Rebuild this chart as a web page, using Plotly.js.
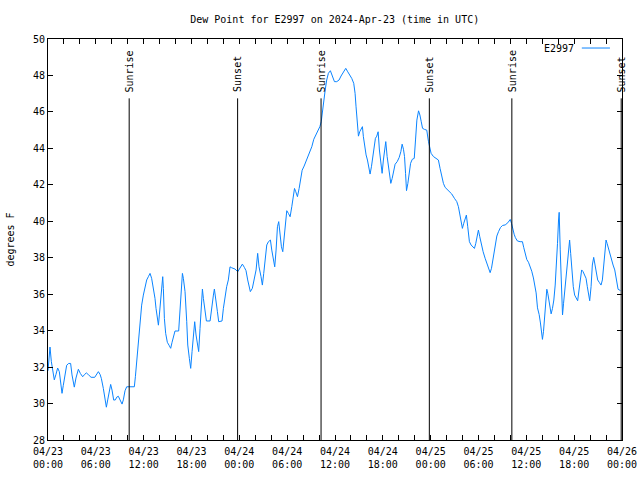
<!DOCTYPE html>
<html>
<head>
<meta charset="utf-8">
<script src="https://cdn.plot.ly/plotly-3.0.1.min.js"></script>
<style>html,body{margin:0;padding:0;background:#fff;}#chart{width:640px;height:480px;}</style>
</head>
<body>
<div id="chart"></div>
<script>
// Hours since 2024-04-23 00:00 UTC
const hours = [
0.0,0.25,0.42,0.59,0.79,1.00,1.21,1.42,1.63,1.76,1.92,2.09,2.34,2.59,2.84,3.01,3.3,3.51,3.81,4.06,4.35,4.6,4.81,5.1,5.4,5.86,6.11,6.32,6.53,6.69,6.94,7.11,7.32,7.49,7.7,7.86,8.03,8.24,8.45,8.62,8.82,9.03,9.29,9.45,9.66,9.87,10.83,10.96,11.12,11.29,11.42,
11.54,11.75,11.96,12.17,12.38,12.59,12.8,13.0,13.21,13.42,13.55,13.72,13.85,13.97,14.14,14.26,14.39,14.47,14.6,14.76,14.97,15.22,15.39,15.56,15.73,15.93,16.39,16.56,16.73,16.86,16.98,17.19,17.4,17.53,17.73,17.9,18.07,18.23,18.4,18.57,18.74,18.9,19.07,19.24,19.37,19.49,19.7,19.87,20.33,20.54,20.75,20.87,21.04,21.25,21.41,21.83,22.0,22.2,22.41,22.62,22.83,23.04,23.46,23.8,
24.09,24.38,24.63,24.84,25.05,25.22,25.38,25.63,25.88,26.1,26.3,26.47,26.72,26.89,27.06,27.23,27.44,27.65,27.9,28.07,28.27,28.44,28.61,28.78,28.94,29.11,29.28,29.45,29.62,29.79,29.95,30.16,30.37,30.58,30.75,30.92,31.08,31.29,31.5,31.71,31.88,32.13,32.34,32.59,32.84,33.09,33.34,33.6,33.85,34.1,34.27,34.43,34.6,34.77,34.96,35.17,35.42,35.67,35.93,36.22,36.51,36.76,37.06,37.35,37.6,37.89,38.1,38.35,38.52,38.64,38.81,38.94,39.1,39.27,39.44,39.56,39.73,39.9,40.07,40.23,40.4,40.57,40.74,40.9,41.07,41.24,41.41,41.57,41.74,41.91,42.07,42.24,42.37,42.54,42.7,42.87,43.0,43.17,43.33,43.54,43.8,44.05,44.26,44.42,44.59,44.72,44.85,44.97,45.14,45.31,45.48,45.69,45.94,46.1,46.27,46.48,46.65,46.82,46.98,47.23,47.51,47.72,47.89,
48.05,48.35,48.64,48.97,49.18,49.39,49.6,49.81,50.06,50.31,50.64,50.98,51.27,51.48,51.65,51.77,51.98,52.15,52.32,52.48,52.65,52.86,53.07,53.28,53.49,53.66,53.82,53.99,54.16,54.33,54.58,54.83,55.04,55.25,55.46,55.63,55.8,55.96,56.13,56.3,56.51,56.76,57.01,57.35,57.68,57.98,58.14,58.3,58.47,58.63,58.88,59.22,59.51,59.68,59.85,
60.06,60.27,60.48,60.68,60.89,61.06,61.23,61.4,61.61,61.77,61.94,62.02,62.15,62.27,62.4,62.57,62.69,62.82,62.99,63.11,63.28,63.45,63.62,63.78,63.91,64.04,64.12,64.25,64.38,64.54,64.67,64.84,65.01,65.18,65.3,65.43,65.56,65.73,65.89,66.06,66.23,66.44,66.61,66.77,66.94,67.11,67.28,67.49,67.65,67.82,67.95,68.12,68.28,68.45,68.62,68.79,68.95,69.16,69.37,69.54,69.71,69.87,70.0,70.13,70.3,70.46,70.67,70.88,71.09,71.26,71.38,71.51,71.8
];
const dewpoint = [
31.8,33.1,32.3,31.84,31.3,31.6,31.95,31.75,31.1,30.56,31.0,31.47,32.1,32.2,32.2,31.57,30.9,31.4,31.88,31.65,31.47,31.6,31.68,31.57,31.44,31.44,31.65,31.75,31.6,31.38,30.83,30.29,29.8,30.2,30.74,31.05,30.74,30.19,30.2,30.35,30.4,30.2,29.97,30.2,30.7,30.92,30.92,31.47,32.3,33.3,34.0,
34.76,35.4,35.95,36.41,36.78,36.96,37.14,36.87,36.41,35.77,35.22,34.58,34.3,34.86,35.77,36.5,36.96,36.32,34.67,33.85,33.36,33.17,33.03,33.36,33.67,33.98,33.98,35.22,36.32,37.14,36.87,36.14,34.49,33.21,32.48,31.93,32.85,33.58,34.49,33.76,33.12,32.85,34.12,35.22,36.28,35.77,35.22,34.53,34.53,35.4,35.95,36.28,35.59,35.04,34.49,34.53,35.22,35.95,36.41,36.78,37.5,37.45,37.38,37.23,
37.47,37.65,37.47,37.29,36.78,36.41,36.14,36.32,36.78,37.33,38.24,37.5,36.96,36.5,37.14,37.87,38.7,38.88,38.97,38.42,37.87,37.5,38.42,39.7,39.98,39.15,38.6,38.33,39.15,40.07,40.58,40.43,40.25,40.8,41.35,41.8,41.62,41.35,41.8,42.35,42.8,43.03,43.27,43.5,43.73,44.09,44.5,44.73,44.91,45.19,45.46,46.1,46.83,47.2,47.75,48.12,48.26,47.97,47.66,47.66,47.75,47.97,48.2,48.39,48.2,48.02,47.84,47.57,47.02,46.28,45.55,44.67,44.91,45.04,45.19,44.64,44.09,43.64,43.36,42.9,42.59,42.99,43.55,44.18,44.55,44.67,44.91,43.91,43.36,42.63,43.36,44.09,44.37,43.55,42.99,42.53,42.08,42.35,42.8,43.13,43.27,43.5,43.82,44.23,43.95,43.55,42.63,41.68,42.08,42.72,43.18,43.4,43.45,44.46,45.55,46.06,45.83,45.46,45.1,45.04,45.0,44.39,44.03,
43.73,43.55,43.45,43.36,42.9,42.45,42.08,41.86,41.75,41.62,41.5,41.26,41.08,40.8,40.43,39.98,39.61,39.89,40.16,40.34,39.7,38.88,38.7,38.6,38.51,38.79,39.24,39.52,39.15,38.79,38.33,37.97,37.7,37.42,37.18,37.42,37.87,38.33,38.79,39.19,39.43,39.66,39.77,39.8,39.92,40.1,39.89,39.52,39.29,39.1,38.92,38.88,38.88,38.55,38.19,
37.9,37.75,37.53,37.26,36.89,36.53,36.07,35.25,34.88,34.42,33.85,33.52,33.94,34.58,35.31,36.27,36.05,35.68,35.13,34.92,35.22,35.68,36.5,37.6,38.79,40.07,40.49,38.43,36.96,34.86,35.5,36.32,37.05,38.06,38.7,38.97,38.24,37.05,36.41,35.95,35.77,35.64,36.23,36.87,37.33,37.24,37.11,36.87,36.41,35.95,35.64,36.41,37.6,38.02,37.6,37.15,36.78,36.64,36.5,36.78,37.51,38.33,38.97,38.79,38.51,38.15,37.87,37.6,37.33,36.87,36.5,36.27,36.2
];
const eventNames = ["Sunrise","Sunset","Sunrise","Sunset","Sunrise","Sunset"];
const eventTimes = ["2024-04-23 10:11","2024-04-23 23:47","2024-04-24 10:15","2024-04-24 23:50","2024-04-25 10:11","2024-04-25 23:54"];
const xTickVals = ["2024-04-23 00:00","2024-04-23 06:00","2024-04-23 12:00","2024-04-23 18:00","2024-04-24 00:00","2024-04-24 06:00","2024-04-24 12:00","2024-04-24 18:00","2024-04-25 00:00","2024-04-25 06:00","2024-04-25 12:00","2024-04-25 18:00","2024-04-26 00:00"];
const xTickText = ["04/23<br>00:00","04/23<br>06:00","04/23<br>12:00","04/23<br>18:00","04/24<br>00:00","04/24<br>06:00","04/24<br>12:00","04/24<br>18:00","04/25<br>00:00","04/25<br>06:00","04/25<br>12:00","04/25<br>18:00","04/26<br>00:00"];
const seriesName = "E2997";
const lineColor = "#0a84ff";

function toStamp(h){
  const d = new Date(Date.UTC(2024,3,23,0,0,0) + Math.round(h*3600000));
  const p = n => String(n).padStart(2,'0');
  return d.getUTCFullYear()+'-'+p(d.getUTCMonth()+1)+'-'+p(d.getUTCDate())+' '+p(d.getUTCHours())+':'+p(d.getUTCMinutes())+':'+p(d.getUTCSeconds());
}
const xs = hours.map(toStamp);

const font = {family: "DejaVu Sans Mono, monospace", size: 10, color: "#000"};
const shapes = eventTimes.map(t => ({type:'line', xref:'x', yref:'paper', x0:t, x1:t, y0:0, y1:0.852, line:{color:'#000', width:1}}));
shapes.push({type:'line', xref:'paper', yref:'paper', x0:0.930, x1:0.979, y0:0.9775, y1:0.9775, line:{color:lineColor, width:1}});
const annotations = eventTimes.map((t,i) => ({x:t, xref:'x', y:0.862, yref:'paper', text:eventNames[i], showarrow:false, textangle:-90, xanchor:'center', yanchor:'bottom', font:font}));
annotations.push({x:0.919, xref:'paper', y:0.9775, yref:'paper', text:seriesName, showarrow:false, xanchor:'right', yanchor:'middle', font:font});

const data = [{x: xs, y: dewpoint, type:'scatter', mode:'lines', name: seriesName, line:{color:lineColor, width:1}, showlegend:false, cliponaxis:true}];
const layout = {
  width:640, height:480,
  margin:{l:48, r:18, t:39, b:40},
  paper_bgcolor:'#fff', plot_bgcolor:'#fff',
  font: font,
  title:{text:"Dew Point for E2997 on 2024-Apr-23 (time in UTC)", font:{family:font.family, size:10, color:'#000'}, x:0.523, xanchor:'center', y:0.96, yanchor:'middle'},
  showlegend:false,
  xaxis:{type:'date', range:["2024-04-23 00:00","2024-04-26 00:00"], tickvals:xTickVals, ticktext:xTickText, ticks:'inside', ticklen:5, tickcolor:'#000', showline:true, linecolor:'#000', linewidth:1, mirror:'ticks', showgrid:false, zeroline:false, tickfont:font, ticklabelstandoff:2,
    minor:{dtick:2*3600000, ticks:'inside', ticklen:5, tickcolor:'#000', showgrid:false}},
  yaxis:{range:[28,50], dtick:2, tick0:28, ticks:'inside', ticklen:5, tickcolor:'#000', showline:true, linecolor:'#000', linewidth:1, mirror:'ticks', showgrid:false, zeroline:false, tickfont:font,
    title:{text:"degrees F", font:font, standoff:16}},
  shapes: shapes,
  annotations: annotations
};
Plotly.newPlot('chart', data, layout, {staticPlot:true, displayModeBar:false});
</script>
</body>
</html>
